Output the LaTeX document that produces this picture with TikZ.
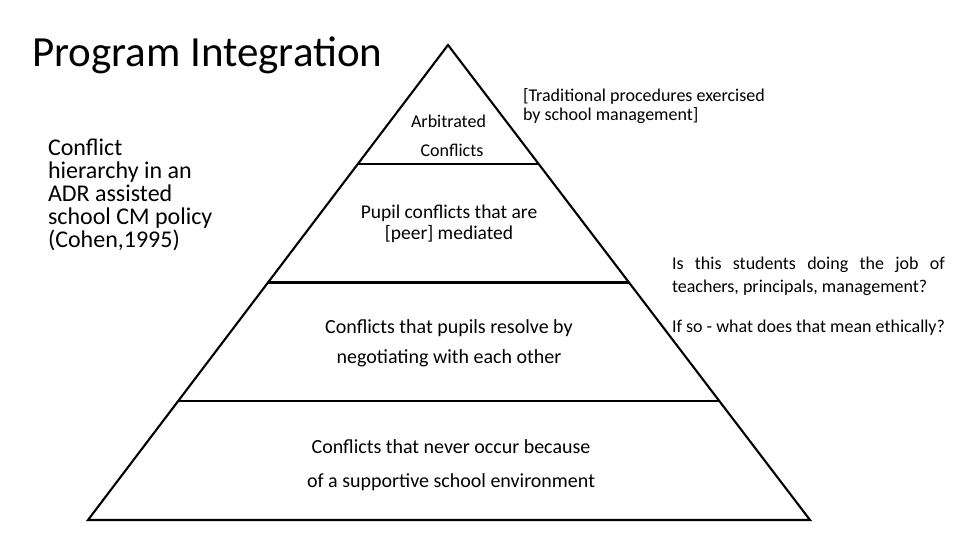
\documentclass[tikz,border=0pt]{standalone}
\usepackage{fontspec}
\setmainfont{Carlito}
\usetikzlibrary{calc}
\begin{document}
\begin{tikzpicture}[x=1pt,y=-1pt,inner sep=0pt,outer sep=0pt,
pyramid/.style={draw,line width=2.1pt,line join=miter},
lbl/.style={font=\fontsize{18}{19}\selectfont,align=center,anchor=base},
tier/.style={font=\fontsize{20}{30}\selectfont,align=center,anchor=base},
note/.style={font=\fontsize{18}{19}\selectfont,align=left,anchor=base west}]
\useasboundingbox (0,0) rectangle (960,540);
% pyramid
\coordinate (apex) at (448,45);
\coordinate (bl) at (88,520);
\coordinate (br) at (810,520);
\draw[pyramid] (apex) -- (bl) -- (br) -- cycle;
\foreach \f in {0.25,0.5,0.75}
  \draw[pyramid] ($(apex)!\f!(bl)$) -- ($(apex)!\f!(br)$);
% titles
\draw (32,67) node[anchor=base west,font=\fontsize{43}{50}\selectfont] (title) {Program Integration};
\draw (48,247) node[anchor=base west,align=left,font=\fontsize{24}{23}\selectfont] (hier)
  {Conflict\\hierarchy in an\\ADR assisted\\school CM policy\\(Cohen,1995)};
% tiers
\draw (448.5,128) node[lbl] (arb) {Arbitrated};
\draw (452,157) node[lbl] (arbc) {Conflicts};
\draw (523,121) node[note] (trad) {[Traditional procedures exercised\\by school management]};
\draw (449,239) node[lbl,font=\fontsize{19.5}{20.5}\selectfont] (peer) {Pupil conflicts that are\\{}[peer] mediated};
\draw (449,363) node[tier] (neg) {Conflicts that pupils resolve by\\negotiating with each other};
\draw (451,487) node[tier,font=\fontsize{20}{34}\selectfont] (env) {Conflicts that never occur because\\of a supportive school environment};
% questions
\draw (672,292) node[note,font=\fontsize{18}{23}\selectfont] (ques)
  {\makebox[273pt][s]{Is this students doing the job of}\\teachers, principals, management?};
\draw (672,332) node[note] (ethic) {If so - what does that mean ethically?};
\end{tikzpicture}
\end{document}
